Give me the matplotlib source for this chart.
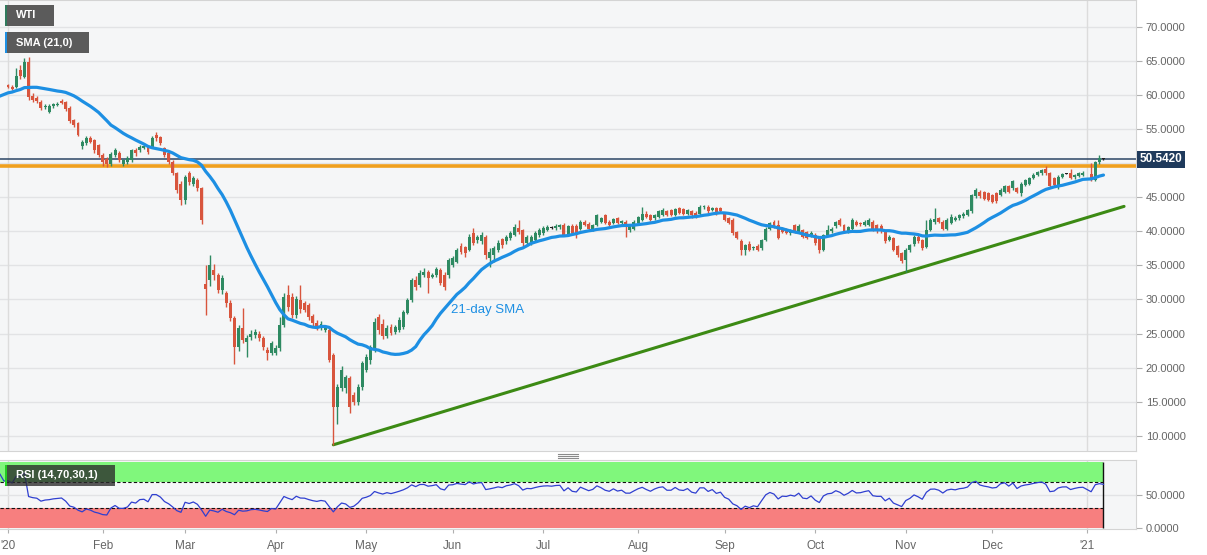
"""WTI daily candles 2020 with 21-day SMA, support trendline and RSI(14) pane.
Writes out.png (1207x555).
"""
import numpy as np
import pandas as pd
import matplotlib
matplotlib.use("Agg")
import matplotlib.pyplot as plt
from matplotlib.patches import Rectangle
from matplotlib.lines import Line2D

plt.rcParams["font.family"] = ["Liberation Sans", "DejaVu Sans"]

# Dec 2019 closes, only used to warm up the SMA / RSI
lead_close = [55.96, 56.10, 58.43, 58.43, 59.20, 59.02, 59.24, 58.76, 59.18, 60.07, 60.21,
              60.94, 60.93, 61.22, 60.44, 60.52, 61.11, 61.11, 61.68, 61.72, 61.68, 61.06]

# one bar per weekday, 2020-01-01 .. 2021-01-07 (nan = no session)
opens = [
    61.4, 61.2, 61.2, 63.7, 62.6, 64.8, 59.8, 59.6, 59.0, 58.2, 57.5, 58.3, 58.5, 59.1, 58.9, 58.1, 56.3, 55.8, 52.5, 52.9, 53.6, 53.4, 52.6,  # jan
    51.2, 50.6, 49.8, 51.2, 51.5, 49.9, 50.1, 50.4, 51.9, 51.9, 52.2, 52.4, 52.4, 54.1, 53.8, 52.2, 51.5, 50.2, 48.5, 47.0,  # feb
    44.6, 48.5, 47.0, 47.5, 46.3, 32.3, 32.9, 34.3, 33.6, 31.4, 31.0, 29.5, 27.3, 23.0, 25.8, 23.7, 24.5, 24.8, 25.0, 24.3, 22.6, 22.1,  # mar
    22.1, 22.9, 26.2, 30.6, 30.4, 27.7, 29.9, 29.5, 29.2, 27.6, 26.6, 25.9, 25.6, 25.5, 21.9, 14.2, 17.0, 17.0, 18.5, 16.0, 15.0, 17.2,  # apr
    19.7, 21.2, 22.6, 27.4, 26.4, 24.6, 26.0, 25.3, 25.5, 26.0, 28.0, 29.9, 32.8, 32.1, 33.6, 34.0, 33.3, 33.6, 34.3, 33.6, 33.6,  # may
    35.0, 35.5, 37.9, 37.7, 37.3, 39.7, 38.7, 38.5, 39.2, 36.1, 36.5, 37.3, 38.8, 38.5, 39.0, 39.5, 40.5, 40.2, 38.3, 38.4, 38.7, 39.5,  # jun
    39.8, 40.2, 40.5, 40.5, 40.6, 40.9, 39.5, 40.7, 40.8, 40.4, 41.3, 41.1, 40.2, 40.9, 41.4, 42.4, 41.4, 41.2, 41.9, 41.2, 41.4, 40.2, 40.4,  # jul
    41.2, 41.7, 42.6, 42.4, 41.9, 42.1, 42.4, 42.9, 43.1, 42.4, 43.4, 43.2, 42.6, 42.9, 42.7, 42.6, 43.5, 43.6, 43.1, 43.4, 43.4,  # aug
    42.6, 41.9, 41.7, 39.9, 38.5, 37.3, 38.2, 37.5, 37.9, 37.5, 38.7, 40.4, 41.4, 40.9, 40.4, 40.3, 39.7, 40.9, 39.9, 40.2, 39.9, 39.4,  # sep
    39.5, 39.0, 37.3, 39.5, 40.0, 40.7, 41.7, 40.9, 40.0, 40.4, 41.4, 41.1, 40.9, 40.9, 41.4, 40.9, 40.8, 40.0, 38.7, 39.0, 37.8, 36.8,  # oct
    35.8, 37.3, 38.2, 39.2, 38.7, 37.7, 40.2, 41.3, 41.9, 41.4, 40.4, 41.2, 41.7, 41.9, 42.2, 42.4, 42.9, 45.1, 45.8, 45.7, 45.6,  # nov
    45.3, 45.6, 45.3, 45.8, 46.6, 46.3, 46.3, 45.6, 46.8, 47.0, 47.8, 48.3, 48.5, 49.2, 48.5, 47.8, 46.6, 48.0, 48.45, 48.5, 47.9, 48.1, 48.3,  # dec
    np.nan, 48.4, 47.5, 50.2, 50.6,  # jan '21
]
highs = [
    61.6, 61.5, 63.9, 64.4, 65.4, 65.6, 60.2, 59.9, 59.3, 58.6, 58.7, 58.8, 59.0, 59.4, 59.1, 58.3, 56.5, 56.0, 53.4, 54.0, 53.9, 53.5, 52.8,
    51.5, 50.9, 51.6, 52.2, 51.8, 50.6, 51.0, 52.1, 52.2, 52.6, 52.7, 52.6, 53.9, 54.5, 54.0, 52.4, 51.7, 50.4, 48.7, 47.3,
    48.3, 48.8, 48.1, 47.8, 46.5, 35.0, 36.5, 35.2, 33.9, 33.6, 31.3, 29.9, 27.6, 26.3, 28.8, 24.8, 25.5, 25.7, 25.4, 24.6, 23.0, 23.9,
    23.3, 27.4, 30.9, 32.1, 30.9, 30.5, 32.1, 29.8, 29.5, 27.9, 27.0, 26.8, 26.3, 25.8, 22.1, 17.6, 20.2, 19.0, 18.8, 16.5, 17.6, 21.0,
    22.0, 23.4, 27.3, 27.9, 27.2, 26.2, 26.4, 26.3, 27.4, 28.5, 30.2, 33.2, 33.4, 34.3, 34.6, 34.3, 33.9, 34.8, 34.6, 34.0, 36.1,
    36.4, 37.6, 38.3, 37.9, 39.6, 40.5, 39.4, 39.9, 39.4, 37.5, 37.9, 38.7, 39.0, 39.5, 40.0, 41.0, 41.6, 40.4, 39.5, 39.4, 40.0, 40.5,
    40.8, 40.9, 40.7, 41.0, 41.1, 41.2, 40.9, 41.0, 41.1, 41.6, 41.6, 41.3, 41.1, 42.6, 42.1, 42.6, 41.7, 42.0, 42.1, 41.7, 41.6, 40.9, 41.6,
    42.3, 43.6, 42.9, 42.6, 42.6, 43.1, 43.4, 43.1, 43.3, 43.4, 43.6, 43.4, 43.3, 43.1, 42.9, 43.8, 43.8, 43.9, 43.6, 43.6, 43.6,
    42.8, 42.1, 41.9, 40.1, 38.8, 38.2, 38.5, 37.9, 38.1, 38.9, 40.6, 41.4, 41.7, 41.7, 40.6, 40.5, 40.4, 41.1, 41.0, 40.4, 40.1, 40.0,
    39.8, 39.2, 39.6, 40.9, 40.6, 41.5, 41.9, 41.1, 40.8, 41.9, 41.6, 41.3, 41.6, 41.9, 41.6, 41.1, 41.0, 40.2, 39.5, 39.2, 38.0, 37.0,
    37.5, 38.2, 39.5, 39.5, 38.9, 41.6, 41.9, 43.4, 42.1, 41.6, 41.9, 42.6, 42.2, 42.6, 42.8, 43.3, 45.5, 46.3, 46.0, 45.9, 45.8,
    45.5, 45.8, 46.3, 46.8, 46.8, 47.5, 46.5, 47.2, 47.7, 48.0, 48.5, 48.9, 49.2, 49.5, 48.7, 48.0, 48.2, 48.6, 48.5, 49.1, 48.4, 48.7, 48.8,
    np.nan, 50.0, 50.3, 51.2, 50.8,
]
lows = [
    61.0, 60.7, 61.0, 62.3, 62.4, 59.2, 58.9, 58.8, 57.8, 57.9, 57.3, 58.1, 58.3, 58.7, 57.7, 55.9, 55.3, 53.9, 52.1, 52.7, 52.9, 51.4, 50.9,
    49.6, 49.4, 49.6, 50.9, 50.2, 49.5, 49.8, 50.2, 51.0, 51.6, 52.0, 51.3, 52.2, 53.3, 52.6, 50.9, 49.9, 48.2, 45.6, 43.9,
    44.0, 46.8, 46.7, 45.9, 41.0, 27.7, 32.0, 32.8, 30.9, 30.8, 28.9, 26.8, 20.6, 22.4, 23.6, 21.5, 24.0, 24.3, 23.9, 22.6, 21.1, 21.8,
    21.8, 22.5, 26.0, 28.3, 27.3, 27.3, 28.0, 28.1, 27.0, 26.1, 25.5, 25.5, 25.2, 20.8, 8.7, 11.8, 16.6, 16.3, 13.4, 14.6, 14.6, 16.8,
    19.3, 20.5, 22.3, 25.0, 24.2, 24.3, 24.8, 25.0, 25.2, 25.7, 27.8, 29.7, 31.4, 31.8, 33.3, 31.0, 33.1, 33.3, 32.1, 31.4, 33.2,
    34.8, 35.3, 36.6, 36.3, 37.1, 38.0, 38.3, 38.2, 35.9, 34.8, 35.5, 37.0, 37.6, 38.2, 38.7, 39.3, 39.6, 37.9, 37.9, 38.0, 38.5, 39.2,
    39.5, 40.0, 40.3, 40.2, 40.4, 39.3, 39.3, 39.5, 39.0, 40.2, 40.7, 40.2, 40.0, 40.7, 41.2, 41.0, 40.7, 41.0, 41.0, 41.0, 39.2, 39.9, 40.2,
    41.0, 41.5, 41.9, 41.5, 41.7, 41.9, 42.2, 42.2, 42.2, 42.2, 42.5, 42.4, 42.4, 41.9, 42.0, 42.4, 43.3, 42.7, 42.9, 42.4, 42.7,
    41.5, 41.0, 39.5, 38.8, 36.5, 36.5, 37.1, 37.2, 37.1, 37.3, 38.5, 40.2, 40.5, 38.8, 39.7, 39.6, 39.5, 39.7, 39.7, 39.0, 38.8, 39.2,
    38.0, 36.8, 37.1, 39.3, 39.7, 40.5, 40.7, 39.7, 39.8, 40.2, 40.7, 40.8, 40.7, 40.7, 40.0, 39.8, 39.8, 38.3, 38.5, 37.1, 36.3, 35.4,
    34.0, 37.0, 37.9, 38.3, 37.3, 37.5, 40.0, 41.0, 41.2, 40.2, 40.2, 41.0, 41.5, 41.7, 42.0, 42.2, 42.7, 44.9, 44.9, 44.6, 44.4,
    44.1, 44.1, 45.1, 45.6, 45.6, 46.1, 45.6, 45.1, 46.6, 46.8, 47.6, 48.1, 48.3, 48.3, 46.3, 46.6, 46.2, 47.8, 48.4, 47.6, 47.7, 47.9, 48.1,
    np.nan, 47.3, 47.3, 49.9, 50.4,
]
closes = [
    61.1, 60.9, 62.8, 62.7, 64.8, 59.7, 59.3, 59.1, 58.0, 58.3, 58.4, 58.6, 58.7, 58.8, 57.9, 56.1, 55.6, 54.1, 53.1, 53.7, 53.1, 51.9, 51.2,
    50.1, 49.8, 51.3, 51.9, 50.4, 50.4, 50.7, 51.9, 51.5, 52.4, 52.5, 51.6, 53.7, 53.7, 52.9, 51.2, 50.2, 48.5, 46.0, 44.6,
    48.0, 47.2, 47.8, 46.3, 41.6, 31.6, 35.0, 33.6, 31.4, 33.1, 29.5, 27.3, 23.0, 25.8, 24.1, 24.3, 25.0, 25.2, 24.3, 23.0, 22.1, 23.6,
    22.9, 26.2, 30.4, 28.9, 27.7, 30.1, 28.6, 28.5, 27.4, 26.5, 25.9, 26.4, 25.9, 21.2, 14.2, 17.2, 19.7, 18.6, 14.2, 15.0, 17.2, 20.7,
    21.6, 23.0, 26.7, 25.5, 24.6, 25.8, 25.1, 26.0, 27.0, 28.2, 29.9, 32.8, 31.8, 33.9, 34.0, 33.1, 33.6, 34.4, 32.4, 31.8, 35.8,
    36.1, 37.3, 37.0, 36.8, 39.2, 38.3, 39.2, 39.5, 36.5, 37.0, 37.6, 38.3, 38.0, 39.2, 39.7, 40.6, 39.9, 38.3, 39.2, 39.1, 39.7, 40.2,
    40.5, 40.6, 40.5, 40.8, 40.9, 39.5, 40.7, 39.7, 39.5, 41.4, 40.9, 40.4, 40.9, 42.4, 41.9, 41.2, 40.9, 41.8, 41.2, 41.5, 40.7, 40.7, 41.4,
    42.1, 42.6, 42.1, 41.7, 42.4, 42.9, 43.1, 42.4, 42.4, 43.2, 42.7, 42.6, 43.1, 42.4, 42.2, 43.6, 43.6, 42.9, 43.4, 42.6, 42.9,
    41.7, 41.2, 39.7, 39.0, 37.3, 38.0, 37.3, 37.7, 37.3, 38.7, 40.4, 41.2, 40.7, 39.0, 39.9, 39.8, 40.2, 39.9, 40.8, 39.2, 39.0, 39.8,
    38.3, 37.3, 39.4, 40.2, 40.4, 41.4, 40.9, 39.9, 40.6, 41.7, 40.9, 41.0, 41.4, 41.7, 40.2, 40.0, 40.0, 38.5, 39.2, 37.3, 36.5, 35.6,
    37.3, 38.0, 39.2, 38.5, 37.5, 40.2, 41.7, 41.8, 41.4, 40.4, 41.7, 42.1, 41.9, 42.4, 42.6, 43.1, 45.3, 46.1, 45.1, 44.8, 44.6,
    44.3, 44.5, 46.1, 46.6, 45.8, 47.3, 45.8, 47.0, 47.5, 47.8, 48.3, 48.7, 49.0, 48.5, 46.6, 46.8, 48.0, 48.4, 48.45, 47.8, 48.2, 48.5, 48.6,
    np.nan, 47.6, 50.2, 50.7, 50.542,
]

resistance = 49.6          # orange horizontal
last_price = 50.542
month_labels = ["'20", "Feb", "Mar", "Apr", "May", "Jun", "Jul", "Aug", "Sep", "Oct", "Nov", "Dec", "'21"]
price_ticks = [10, 15, 20, 25, 30, 35, 40, 45, 50, 55, 60, 65, 70]
rsi_ticks = [0, 50]

W, H = 1207, 555
UP, DOWN = "#2e8a62", "#d8553d"
SMA_C = "#1d8fe3"


def fx(x):
    return x / W


def fy(y):
    return 1 - y / H


def main():
    dates = pd.bdate_range("2020-01-01", "2021-01-07")
    n = len(dates)
    assert n == len(opens) == len(highs) == len(lows) == len(closes), (n, len(opens), len(closes))
    o, h, l, c = (np.array(a, dtype=float) for a in (opens, highs, lows, closes))
    idx = np.arange(n)
    ok = ~np.isnan(c)

    # SMA and Wilder RSI over valid sessions (Dec 2019 warm-up included)
    full = pd.Series(np.r_[lead_close, c[ok]], index=np.r_[np.arange(-len(lead_close), 0), idx[ok]])
    sma = full.rolling(21).mean()
    d = full.diff()
    gain = d.clip(lower=0).ewm(alpha=1 / 14, adjust=False).mean()
    loss = (-d.clip(upper=0)).ewm(alpha=1 / 14, adjust=False).mean()
    rsi = 100 - 100 / (1 + gain / loss)

    fig = plt.figure(figsize=(W / 100, H / 100), dpi=100)
    ax = fig.add_axes([0, fy(451), fx(1136), fy(0) - fy(451)])
    ax2 = fig.add_axes([0, fy(529), fx(1136), fy(460) - fy(529)], sharex=ax)
    for a in (ax, ax2):
        a.set_facecolor("#f5f6f7")
        for s in a.spines.values():
            s.set_color("#d4d4d4")
        a.spines["left"].set_visible(False)

    xmin, xmax = -1.94, 273.9
    ax.set_xlim(xmin, xmax)
    ax.set_ylim(7.79, 73.9)

    # grid
    for v in price_ticks:
        ax.axhline(v, color="#e2e3e5", lw=1, zorder=0)
    year_idx = [0, int(np.where(dates == pd.Timestamp("2021-01-01"))[0][0])]
    for xi in year_idx:
        ax.axvline(xi, color="#dcdcdc", lw=1, zorder=0)
        ax2.axvline(xi, color="#dcdcdc", lw=1, zorder=0)

    # levels
    ax.axhline(resistance, color="#f0a01e", lw=2.6, zorder=1)
    ax.axhline(last_price, color="#2b4565", lw=1.1, zorder=1)

    # support line: April low through the November low, run out to the right
    i1 = int(np.nanargmin(l))
    late = np.where(idx > 200, l, np.nan)
    i2 = int(np.nanargmin(late))
    slope = (l[i2] - l[i1]) / (i2 - i1)
    x_end = 271
    ax.plot([i1, x_end], [l[i1], l[i1] + slope * (x_end - i1)], color="#3c8a14", lw=2.2,
            zorder=2, solid_capstyle="round")

    # candles
    v = idx[ok]
    oo, hh, ll, cc = o[ok], h[ok], l[ok], c[ok]
    cols = np.where(cc >= oo, UP, DOWN)
    cols = np.where(np.abs(cc - oo) < 0.06, "#222222", cols)
    ax.vlines(v, ll, hh, colors=cols, lw=1, zorder=3)
    body = np.maximum(np.abs(cc - oo), 0.15)
    ax.bar(v, body, bottom=np.minimum(oo, cc), width=0.72, color=cols, lw=0, zorder=3)

    # SMA
    ax.plot(sma.index, sma.values, color=SMA_C, lw=2.3, zorder=4, solid_capstyle="round")
    ax.text(107.5, 28.4, "21-day SMA", color=SMA_C, fontsize=9.5, va="center", ha="left", zorder=5)

    # right axis (the 50 label sits under the last-price box, as in the source chart)
    ax.yaxis.tick_right()
    ax.set_yticks(price_ticks)
    ax.set_yticklabels(["" if t == 50 else f"{t:.4f}" for t in price_ticks])
    ax.tick_params(axis="y", length=4, color="#b0b0b0", labelsize=8, labelcolor="#666666", pad=3)
    ax.tick_params(axis="x", bottom=False, labelbottom=False)
    ax.text(1.0035, last_price, f"{last_price:.4f}", transform=ax.get_yaxis_transform(),
            color="white", fontsize=8.5, fontweight="bold", va="center", ha="left",
            bbox=dict(boxstyle="square,pad=0.22", fc="#1f3a5c", ec="none"), zorder=6)

    # RSI pane
    last = v[-1]
    ax2.set_ylim(-1.5, 103)
    ax2.fill_between([xmin, last], 70, 100, color="#80f77c", lw=0, zorder=0)
    ax2.fill_between([xmin, last], 0, 30, color="#f77f7f", lw=0, zorder=0)
    ax2.axhline(50, color="#e2e3e5", lw=1, zorder=0)
    ax2.hlines([70, 30], xmin, last, colors="#111111", lw=0.8, linestyles=(0, (3, 2)), zorder=1)
    ax2.vlines(last, 0, 100, colors="#111111", lw=1, zorder=1)
    rr = rsi[rsi.index >= -3]
    ax2.plot(rr.index, rr.values, color="#2f3fd0", lw=0.9, zorder=2)
    ax2.yaxis.tick_right()
    ax2.set_yticks(rsi_ticks)
    ax2.set_yticklabels([f"{t:.4f}" for t in rsi_ticks])
    ax2.tick_params(axis="y", length=4, color="#b0b0b0", labelsize=8, labelcolor="#666666", pad=3)

    month_pos = []
    for y, m in [(2020, mm) for mm in range(1, 13)] + [(2021, 1)]:
        month_pos.append(int(np.where((dates.year == y) & (dates.month == m))[0][0]))
    ax2.set_xticks(month_pos)
    ax2.set_xticklabels(month_labels)
    ax2.tick_params(axis="x", length=3, color="#b0b0b0", labelsize=8.5, labelcolor="#666666", pad=5)

    # legend boxes top-left
    def tag(x0, y0, w, h, stripe, text, bg="#5b5b5b", alpha=1.0):
        fig.add_artist(Rectangle((fx(x0), fy(y0 + h)), fx(w), h / H, transform=fig.transFigure,
                                 fc=bg, ec="none", alpha=alpha, zorder=10))
        fig.add_artist(Rectangle((fx(x0), fy(y0 + h)), fx(2), h / H, transform=fig.transFigure,
                                 fc=stripe, ec="none", zorder=11))
        fig.text(fx(x0 + 11), fy(y0 + h / 2), text, color="white", fontsize=8, fontweight="bold",
                 va="center", ha="left", zorder=12)

    tag(5, 5, 49, 21, "#2f7a5c", "WTI")
    tag(5, 32, 84, 21, SMA_C, "SMA (21,0)")
    tag(5, 465, 110, 21, "#22cc22", "RSI (14,70,30,1)", bg="#2a2a2a", alpha=0.78)

    # pane splitter handle
    for yy in (454, 456, 458):
        fig.add_artist(Line2D([fx(558), fx(578)], [fy(yy), fy(yy)], transform=fig.transFigure,
                              color="#8a8a8a", lw=0.8))

    fig.savefig("out.png", dpi=100, facecolor="white")


if __name__ == "__main__":
    main()
